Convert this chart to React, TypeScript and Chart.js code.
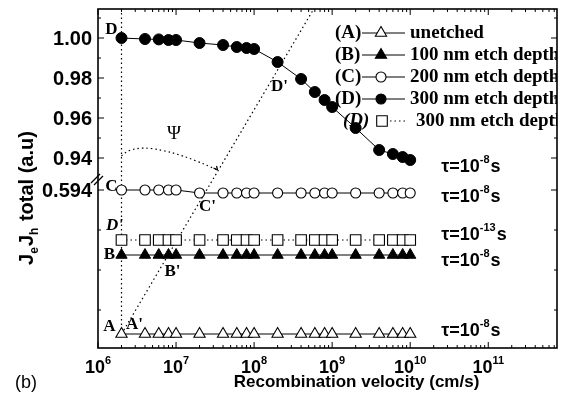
import React, { useEffect, useRef } from 'react';
import { Chart, registerables } from 'chart.js';

Chart.register(...registerables);

// ---------- data ----------
const velocities = [2e6, 4e6, 6e6, 8e6, 1e7, 2e7, 4e7, 6e7, 8e7, 1e8, 2e8, 4e8, 6e8, 8e8, 1e9, 2e9, 4e9, 6e9, 8e9, 1e10];
// upper segment (true axis values)
const seriesD = [1.0, 0.9995, 0.9993, 0.999, 0.999, 0.9975, 0.9965, 0.9955, 0.995, 0.9945, 0.988, 0.9795, 0.973, 0.969, 0.9655, 0.955, 0.944, 0.942, 0.9405, 0.939];
// lower segment (below the axis break)
const seriesC = [0.594, 0.594, 0.594, 0.594, 0.594, 0.5925, 0.5925, 0.5925, 0.5925, 0.5925, 0.5925, 0.5925, 0.5925, 0.5925, 0.5925, 0.5925, 0.5925, 0.5925, 0.5925, 0.5925];
const seriesSq = [0.569, 0.569, 0.569, 0.569, 0.569, 0.569, 0.569, 0.569, 0.569, 0.569, 0.569, 0.569, 0.569, 0.569, 0.569, 0.569, 0.569, 0.569, 0.569, 0.569];
const seriesB = [0.5615, 0.5615, 0.5615, 0.5615, 0.5615, 0.5615, 0.5615, 0.5615, 0.5615, 0.5615, 0.5615, 0.5615, 0.5615, 0.5615, 0.5615, 0.5615, 0.5615, 0.5615, 0.5615, 0.5615];
const seriesA = [0.522, 0.522, 0.522, 0.522, 0.522, 0.522, 0.522, 0.522, 0.522, 0.522, 0.522, 0.522, 0.522, 0.522, 0.522, 0.522, 0.522, 0.522, 0.522, 0.522];

const breakShift = 0.33; // lower segment displayed shifted up by this amount
const yUpperTicks = [0.94, 0.96, 0.98, 1.0];
const yUpperMinor = [0.95, 0.97, 0.99, 1.01];
const yLowerTicks = [0.594];
const yLowerMinor = [0.574, 0.554, 0.534];
const xDecades = [6, 7, 8, 9, 10, 11];
const xMin = 1e6;
const xMax = 7.6e11;
const yMin = 0.845;
const yMax = 1.0145;
const guideTopVelocity = 5.8e8;

const legendTags = ['(A)', '(B)', '(C)', '(D)', '(D)'];
const legendTexts = ['unetched', '100 nm etch depth', '200 nm etch depth', '300 nm etch depth', '300 nm etch depth'];
const tauExponents = ['-8', '-8', '-13', '-8', '-8']; // D, C, squares, B, A

const shown = (arr: number[], shift: number) => velocities.map((v, i) => ({ x: v, y: arr[i] + shift }));

const SANS = "'Liberation Sans', Arial, sans-serif";
const SERIF = "'Liberation Serif', 'Times New Roman', serif";

function marker(ctx: CanvasRenderingContext2D, style: string, x: number, y: number, r: number, fill: string) {
  ctx.beginPath();
  if (style === 'triangle') {
    ctx.moveTo(x, y - r);
    ctx.lineTo(x + r * 0.866, y + r * 0.5);
    ctx.lineTo(x - r * 0.866, y + r * 0.5);
    ctx.closePath();
  } else if (style === 'circle') {
    ctx.arc(x, y, r, 0, Math.PI * 2);
  } else {
    const s = r * Math.SQRT1_2;
    ctx.rect(x - s, y - s, 2 * s, 2 * s);
  }
  ctx.fillStyle = fill;
  ctx.fill();
  ctx.stroke();
}

function powText(ctx: CanvasRenderingContext2D, base: string, exp: string, suffix: string, x: number, baseline: number, align: 'left' | 'center', big: number, small: number) {
  ctx.textBaseline = 'alphabetic';
  ctx.textAlign = 'left';
  ctx.font = `bold ${big}px ${SANS}`;
  const wb = ctx.measureText(base).width;
  const ws = suffix ? ctx.measureText(suffix).width : 0;
  ctx.font = `bold ${small}px ${SANS}`;
  const we = ctx.measureText(exp).width;
  const total = wb + we + ws;
  let sx = align === 'center' ? x - total / 2 : x;
  ctx.font = `bold ${big}px ${SANS}`;
  ctx.fillText(base, sx, baseline);
  ctx.font = `bold ${small}px ${SANS}`;
  ctx.fillText(exp, sx + wb, baseline - big * 0.5);
  if (suffix) {
    ctx.font = `bold ${big}px ${SANS}`;
    ctx.fillText(suffix, sx + wb + we + 1, baseline);
  }
}

const overlayPlugin = {
  id: 'overlay',
  afterDraw(chart: any) {
    const ctx: CanvasRenderingContext2D = chart.ctx;
    const { left, right, top, bottom } = chart.chartArea;
    const xs = chart.scales.x;
    const ys = chart.scales.y;
    const X = (v: number) => xs.getPixelForValue(v);
    const Y = (v: number) => ys.getPixelForValue(v);
    const seg = (x1: number, y1: number, x2: number, y2: number) => {
      ctx.beginPath();
      ctx.moveTo(x1, y1);
      ctx.lineTo(x2, y2);
      ctx.stroke();
    };
    ctx.save();
    ctx.fillStyle = '#000';
    ctx.strokeStyle = '#000';

    // ticks (inward)
    ctx.lineWidth = 1;
    for (const d of xDecades) {
      for (let m = 1; m <= 9; m++) {
        const v = m * Math.pow(10, d);
        if (v < xMin || v > xMax) continue;
        const px = X(v);
        const len = m === 1 ? 6 : 3;
        seg(px, bottom, px, bottom - len);
        seg(px, top, px, top + len);
      }
    }
    const yTick = (v: number, len: number) => {
      const py = Y(v);
      seg(left, py, left + len, py);
      seg(right, py, right - len, py);
    };
    yUpperTicks.forEach((v) => yTick(v, 6));
    yUpperMinor.forEach((v) => yTick(v, 3));
    yLowerTicks.forEach((v) => yTick(v + breakShift, 6));
    yLowerMinor.forEach((v) => yTick(v + breakShift, 3));

    // frame
    ctx.lineWidth = 1.6;
    ctx.strokeRect(left, top, right - left, bottom - top);

    // axis break marks
    const by = Y(0.93);
    ctx.lineWidth = 1.3;
    seg(left - 7, by + 5, left + 2, by - 4);
    seg(left - 4, by + 7, left + 5, by - 2);

    // y tick labels
    ctx.font = `bold 20px ${SANS}`;
    ctx.textAlign = 'right';
    ctx.textBaseline = 'middle';
    yUpperTicks.forEach((v) => ctx.fillText(v.toFixed(2), left - 6, Y(v) + 1));
    yLowerTicks.forEach((v) => ctx.fillText(v.toFixed(3), left - 6, Y(v + breakShift) + 1));

    // x tick labels
    xDecades.forEach((d) => powText(ctx, '10', String(d), '', X(Math.pow(10, d)), bottom + 25, 'center', 18, 11));

    // axis titles
    ctx.font = `bold 17px ${SANS}`;
    ctx.textAlign = 'center';
    ctx.textBaseline = 'middle';
    ctx.fillText('Recombination velocity (cm/s)', (left + right) / 2 + 29, bottom + 34);

    ctx.font = `18px ${SANS}`;
    ctx.textAlign = 'left';
    ctx.fillText('(b)', 15, bottom + 35);

    // y title (rotated)
    ctx.save();
    ctx.translate(33, 198);
    ctx.rotate(-Math.PI / 2);
    ctx.textBaseline = 'alphabetic';
    ctx.textAlign = 'left';
    const parts: [string, boolean][] = [['J', false], ['e', true], ['J', false], ['h', true], [' total (a.u)', false]];
    let tw = 0;
    parts.forEach(([s, sub]) => {
      ctx.font = sub ? `bold 12px ${SANS}` : `bold 20px ${SANS}`;
      tw += ctx.measureText(s).width + (sub ? 1 : 0);
    });
    let cx = -tw / 2;
    parts.forEach(([s, sub]) => {
      ctx.font = sub ? `bold 12px ${SANS}` : `bold 20px ${SANS}`;
      ctx.fillText(s, cx, sub ? 5 : 0);
      cx += ctx.measureText(s).width + (sub ? 1 : 0);
    });
    ctx.restore();

    // tau labels
    const tauRows = [
      seriesD[seriesD.length - 1],
      seriesC[seriesC.length - 1] + breakShift,
      seriesSq[seriesSq.length - 1] + breakShift,
      seriesB[seriesB.length - 1] + breakShift,
      seriesA[seriesA.length - 1] + breakShift,
    ];
    const tauDy = [5, 2, -7, 4, -5];
    tauRows.forEach((v, i) => powText(ctx, '\u03c4=10', tauExponents[i], 's', X(2.5e10), Y(v) + tauDy[i] + 6.5, 'left', 18, 11));

    // point annotations
    ctx.font = `bold 17px ${SERIF}`;
    ctx.textAlign = 'center';
    ctx.textBaseline = 'middle';
    const ann: [string, number[], number, number, number, boolean][] = [
      ['D', seriesD, 0, -10, -8, false],
      ["D'", seriesD, 10, 2, 25, false],
      ['C', seriesC, 0, -10, -3, false],
      ["C'", seriesC, 5, 8, 14, false],
      ["D'", seriesSq, 0, -7, -14, true],
      ['B', seriesB, 0, -12, 0, false],
      ["B'", seriesB, 3, 4, 17, false],
      ['A', seriesA, 0, -12, -7, false],
      ["A'", seriesA, 0, 13, -9, false],
    ];
    ann.forEach(([t, arr, idx, dx, dy, ital]) => {
      const sh = arr === seriesD ? 0 : breakShift;
      ctx.font = ital ? `italic bold 17px ${SERIF}` : `bold 17px ${SERIF}`;
      ctx.fillText(t, X(velocities[idx]) + dx, Y(arr[idx] + sh) + dy);
    });

    // psi arc
    const p0 = [X(2e6), Y(0.941)];
    const pc = [X(3.5e6), Y(0.9515)];
    const p1 = [X(3.4e7), Y(0.934)];
    ctx.lineWidth = 1.2;
    ctx.setLineDash([1.5, 3]);
    ctx.beginPath();
    ctx.moveTo(p0[0], p0[1]);
    ctx.quadraticCurveTo(pc[0], pc[1], p1[0], p1[1]);
    ctx.stroke();
    ctx.setLineDash([]);
    ctx.lineWidth = 1.2;
    seg(p1[0], p1[1], p1[0] - 4, p1[1] - 2);
    seg(p1[0], p1[1], p1[0] - 1, p1[1] - 4);
    ctx.font = `19px ${SERIF}`;
    ctx.fillText('\u03a8', X(9.4e6), Y(0.952));

    // legend (clipped to plot area)
    ctx.save();
    ctx.beginPath();
    ctx.rect(left, top, right - left, bottom - top);
    ctx.clip();
    const styles: [string, string, boolean][] = [
      ['triangle', '#fff', false],
      ['triangle', '#000', false],
      ['circle', '#fff', false],
      ['circle', '#000', false],
      ['rect', '#fff', true],
    ];
    styles.forEach(([st, fill, dotted], i) => {
      const ry = 33 + 22 * i;
      ctx.font = i === 4 ? `italic bold 19px ${SERIF}` : `bold 19px ${SERIF}`;
      ctx.textAlign = 'left';
      ctx.textBaseline = 'middle';
      ctx.fillStyle = '#000';
      ctx.fillText(legendTags[i], i === 4 ? 343 : 335, ry);
      ctx.lineWidth = 1;
      if (dotted) {
        ctx.setLineDash([1.5, 3]);
        seg(390, ry, 406, ry);
        ctx.setLineDash([]);
      } else {
        seg(362, ry, 405, ry);
      }
      ctx.lineWidth = 1.1;
      const r = st === 'rect' ? 7.5 : st === 'triangle' ? 6.5 : 5;
      marker(ctx, st, dotted ? 382 : 381, ry, r, fill);
      ctx.fillStyle = '#000';
      ctx.font = `bold 19px ${SERIF}`;
      ctx.fillText(legendTexts[i], dotted ? 416 : 410, ry);
    });
    ctx.restore();

    ctx.restore();
  },
};

export default function App() {
  const ref = useRef<HTMLCanvasElement | null>(null);
  useEffect(() => {
    if (!ref.current) return;
    const dotted = [1.5, 3];
    const chart = new Chart(ref.current, {
      type: 'line',
      data: {
        datasets: [
          { label: 'A', data: shown(seriesA, breakShift), borderColor: '#000', borderWidth: 1, pointStyle: 'triangle', pointRadius: 6.5, pointBackgroundColor: '#fff', pointBorderColor: '#000', pointBorderWidth: 1.1 },
          { label: 'B', data: shown(seriesB, breakShift), borderColor: '#000', borderWidth: 1, pointStyle: 'triangle', pointRadius: 6.5, pointBackgroundColor: '#000', pointBorderColor: '#000', pointBorderWidth: 1 },
          { label: 'C', data: shown(seriesC, breakShift), borderColor: '#000', borderWidth: 1, pointStyle: 'circle', pointRadius: 5, pointBackgroundColor: '#fff', pointBorderColor: '#000', pointBorderWidth: 1.1 },
          { label: 'D', data: shown(seriesD, 0), borderColor: '#000', borderWidth: 1, pointStyle: 'circle', pointRadius: 5.5, pointBackgroundColor: '#000', pointBorderColor: '#000', pointBorderWidth: 1 },
          { label: 'Dsq', data: shown(seriesSq, breakShift), borderColor: '#000', borderWidth: 1, borderDash: dotted, pointStyle: 'rect', pointRadius: 7.5, pointBackgroundColor: '#fff', pointBorderColor: '#000', pointBorderWidth: 1.1 },
          { label: 'vguide', data: [{ x: velocities[0], y: seriesA[0] + breakShift }, { x: velocities[0], y: yMax }], borderColor: '#000', borderWidth: 1.2, borderDash: dotted, pointRadius: 0 },
          { label: 'dguide', data: [{ x: velocities[0], y: seriesA[0] + breakShift }, { x: guideTopVelocity, y: yMax }], borderColor: '#000', borderWidth: 1.2, borderDash: dotted, pointRadius: 0 },
        ],
      },
      options: {
        animation: false,
        responsive: false,
        devicePixelRatio: 1,
        events: [],
        layout: { autoPadding: false, padding: { left: 98, right: 12, top: 9, bottom: 56 } },
        plugins: { legend: { display: false }, tooltip: { enabled: false } },
        elements: { line: { tension: 0 } },
        scales: {
          x: { type: 'logarithmic', min: xMin, max: xMax, display: false },
          y: { type: 'linear', min: yMin, max: yMax, display: false },
        },
      } as any,
      plugins: [overlayPlugin],
    });
    return () => chart.destroy();
  }, []);
  return (
    <div style={{ position: 'fixed', left: 0, top: 0, width: 569, height: 404, background: '#fff' }}>
      <canvas ref={ref} width={569} height={404} style={{ display: 'block', width: 569, height: 404 }} />
    </div>
  );
}
